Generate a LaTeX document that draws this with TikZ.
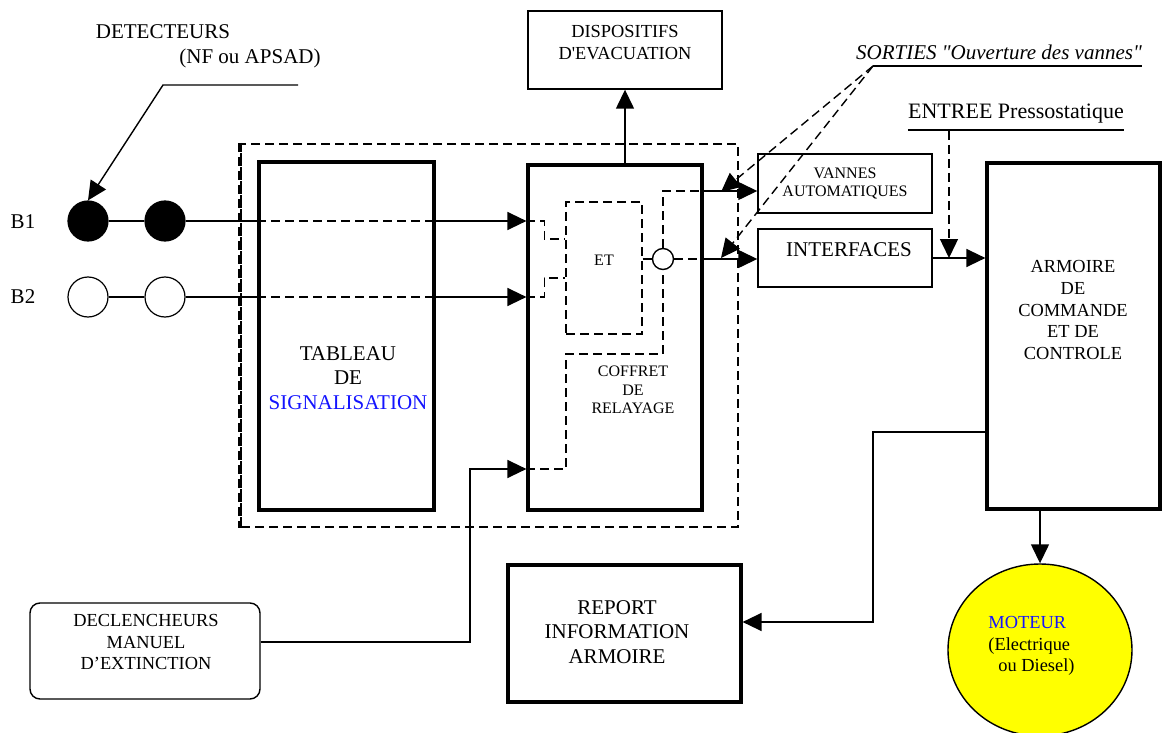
\documentclass[tikz,border=0pt]{standalone}
\usepackage{fontspec}
\setmainfont{Liberation Serif}[Ligatures=TeXOff]
\usepackage{tikz}
\usetikzlibrary{arrows.meta,shapes.geometric}
\definecolor{sigblue}{RGB}{20,20,255}
\definecolor{motyellow}{RGB}{255,255,0}
\newcommand{\fbig}{\fontsize{10.5}{12.4}\selectfont}
\newcommand{\fmid}{\fontsize{9.2}{10.8}\selectfont}
\newcommand{\fsmall}{\fontsize{8}{9.2}\selectfont}
\tikzset{
  heavybox/.style = {draw,line width=1.6pt,fill=white,inner sep=0pt},
  lightbox/.style = {draw,line width=0.7pt,fill=white,inner sep=0pt},
  wire/.style     = {line width=0.7pt},
  dwire/.style    = {wire,dash pattern=on 4.5pt off 2.5pt},
  arr/.style      = {-{Triangle[length=9.5pt,width=9pt]}},
  txt/.style      = {align=center,inner sep=0pt},
  detc/.style     = {circle,draw,line width=0.6pt,minimum size=20pt,inner sep=0pt}
}

\begin{document}
\begin{tikzpicture}[x=0.5pt,y=-0.5pt]
  \useasboundingbox (0,0) rectangle (1163,733);
  % cadre en pointilles
  \node[draw,dash pattern=on 4.5pt off 2.5pt,line width=1pt,minimum width=248.5pt,
        minimum height=191.5pt,inner sep=0pt] (cadre) at (489.5,335.5) {};
  \draw[line width=2pt,dash pattern=on 4.5pt off 2.5pt] (cadre.north west) -- (cadre.south west);

  % blocs
  \node[heavybox,minimum width=87.5pt,minimum height=174pt] (tableau) at (346.5,336) {};
  \node[heavybox,minimum width=87pt,minimum height=172.5pt] (coffret) at (615,337.5) {};
  \node[heavybox,minimum width=86.5pt,minimum height=173pt] (armoire) at (1073.5,336) {};
  \node[heavybox,minimum width=116.5pt,minimum height=68.5pt] (report) at (624.5,633.5) {};
  \node[lightbox,minimum width=97pt,minimum height=39pt] (dispo) at (625,50) {};
  \node[lightbox,minimum width=87pt,minimum height=29.5pt] (vannes) at (845,183.5) {};
  \node[lightbox,minimum width=87pt,minimum height=29pt] (interf) at (845,258) {};
  \node[lightbox,rounded corners=5pt,minimum width=115pt,minimum height=48pt] (decl) at (145,651) {};
  \node[draw,dwire,minimum width=38pt,minimum height=66pt,inner sep=0pt] (et) at (604,268) {};
  \node[ellipse,draw,fill=motyellow,line width=0.7pt,minimum width=92pt,minimum height=86pt,
        inner sep=0pt] (moteur) at (1040,650) {};
  \node[circle,draw,wire,fill=white,minimum size=10.5pt,inner sep=0pt] (porte) at (663,259) {};

  % textes
  \node[txt,font=\fbig] (tabtxt) at (348,378) {TABLEAU\\DE\\\textcolor{sigblue}{SIGNALISATION}};
  \node[txt,font=\fsmall] (coftxt) at (633,390) {COFFRET\\DE\\RELAYAGE};
  \node[txt,font=\fsmall] (ettxt) at (604,260) {ET};
  \node[txt,font=\fsmall] (vantxt) at (845,183.5) {VANNES\\AUTOMATIQUES};
  \node[txt,font=\fbig] (inttxt) at (849,250) {INTERFACES};
  \node[txt,font=\fmid] (disptxt) at (625,42.5) {DISPOSITIFS\\D'EVACUATION};
  \node[txt,font=\fmid] (armtxt) at (1073,310) {ARMOIRE\\DE\\COMMANDE\\ET DE\\CONTROLE};
  \node[txt,font=\fbig] (reptxt) at (617,632) {REPORT\\INFORMATION\\ARMOIRE};
  \node[txt,font=\fmid] (decltxt) at (146,642) {DECLENCHEURS\\MANUEL\\D’EXTINCTION};
  \node[align=left,font=\fmid,inner sep=0pt,anchor=west] (mottxt) at (988,646)
       {\textcolor{sigblue}{MOTEUR}\\(Electrique\\\hspace*{5pt}ou Diesel)};

  % detecteurs
  \node[detc,fill=black] (d1a) at (88,221) {};
  \node[detc,fill=black] (d1b) at (165,221) {};
  \node[detc] (d2a) at (88,297) {};
  \node[detc] (d2b) at (165,297) {};
  \node[font=\fbig,inner sep=0pt] (b1) at (23,222) {B1};
  \node[font=\fbig,inner sep=0pt] (b2) at (23,297) {B2};
  \node[font=\fbig,inner sep=0pt] (dettxt) at (163,32) {DETECTEURS};
  \node[font=\fbig,inner sep=0pt] (nftxt) at (250,58) {(NF ou APSAD)};
  \coordinate (lk) at (298,85);
  \coordinate (lb) at (163,85);
  \draw[wire,arr] (lk) -- (lb) -- (d1a.north);

  % boucles B1 et B2
  \draw[wire] (d1a) -- (d1b);
  \draw[wire] (d2a) -- (d2b);
  \draw[wire] (d1b) -- (d1b -| tableau.west);
  \draw[wire] (d2b) -- (d2b -| tableau.west);
  \draw[dwire] (d1b -| tableau.west) -- (d1b -| tableau.east);
  \draw[dwire] (d2b -| tableau.west) -- (d2b -| tableau.east);
  \draw[wire,arr] (d1b -| tableau.east) -- (d1b -| coffret.west);
  \draw[wire,arr] (d2b -| tableau.east) -- (d2b -| coffret.west);
  \draw[dwire] (d1b -| coffret.west) -- ++(18,0) |- ([yshift=14.5pt]et.west);
  \draw[dwire] (d2b -| coffret.west) -- ++(18,0) |- ([yshift=-5pt]et.west);

  % declencheurs manuels
  \coordinate (mk) at (470,469);
  \coordinate (rl) at (566,354);
  \draw[wire,arr] ([yshift=4.5pt]decl.east) -| (mk) -- (mk -| coffret.west);
  \draw[dwire] (mk -| coffret.west) -| (rl) -| (porte.south);

  % sorties du coffret
  \coordinate (vk) at (663,191);
  \draw[dwire] (et.east |- porte) -- (porte.west);
  \draw[dwire] (porte.east) -- (porte -| coffret.east);
  \draw[wire,arr] (porte -| coffret.east) -- (porte -| interf.west);
  \draw[dwire] (porte.north) -- (vk) -- (vk -| coffret.east);
  \draw[wire,arr] (vk -| coffret.east) -- (vk -| vannes.west);
  \draw[wire,arr] (dispo.south |- coffret.north) -- (dispo.south);
  \draw[wire,arr] (interf.east) -- (interf.east -| armoire.west);

  % SORTIES
  \node[font=\fbig\itshape,inner sep=0pt] (sorties) at (999,52) {SORTIES "Ouverture des vannes"};
  \coordinate (sk) at (873,66);
  \coordinate (sv) at (721,192);
  \coordinate (si) at (721,258);
  \draw[wire] (sk) -- (sk -| sorties.east);
  \draw[dwire,arr] (sk) -- (sv);
  \draw[dwire,arr] (sk) -- (si);

  % ENTREE
  \node[font=\fontsize{11}{13}\selectfont,inner sep=0pt] (entree) at (1016,114) {ENTREE Pressostatique};
  \draw[wire] ([yshift=-5.5pt]entree.base west) -- ([yshift=-5.5pt]entree.base east);
  \coordinate (ek) at (949,131);
  \draw[dwire,arr] (ek) -- (ek |- interf.east);

  % armoire
  \coordinate (rk) at (873,622);
  \draw[wire,arr] (moteur.north |- armoire.south) -- (moteur.north);
  \draw[wire,arr] ([yshift=-48pt]armoire.west) -| (rk) -- (rk -| report.east);
\end{tikzpicture}
\end{document}
